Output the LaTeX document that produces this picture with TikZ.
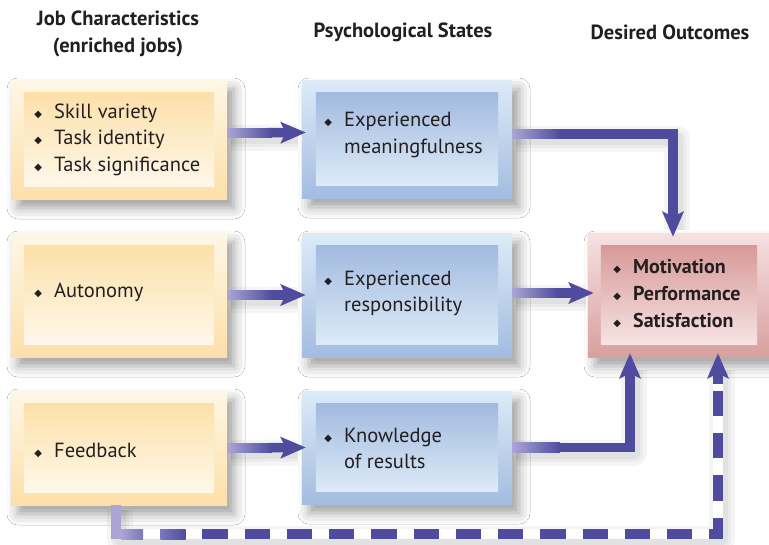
\documentclass[tikz,border=0pt]{standalone}
\usepackage{fontspec}
\setmainfont{PT Sans}
\newfontfamily\symf{DejaVu Sans}
\usetikzlibrary{shadows.blur,arrows.meta,calc}
\definecolor{ind}{HTML}{4F4C9F}
\definecolor{lav}{HTML}{ABA5D6}
\definecolor{midc}{HTML}{7C78BC}
\definecolor{txt}{HTML}{231F20}
\definecolor{otop}{HTML}{FEF7E6}
\definecolor{obot}{HTML}{FDDFA9}
\definecolor{oitop}{HTML}{FDE0A9}
\definecolor{oibot}{HTML}{FEF8EA}
\definecolor{btop}{HTML}{DDEBF8}
\definecolor{bbot}{HTML}{A3BCE0}
\definecolor{bitop}{HTML}{A2BADF}
\definecolor{bibot}{HTML}{DDEBF8}
\definecolor{ptop}{HTML}{F6E1E1}
\definecolor{pbot}{HTML}{D8A09F}
\definecolor{pitop}{HTML}{D79A99}
\definecolor{pibot}{HTML}{F7E3E3}
\newcommand\bl{\makebox[7pt][c]{\raisebox{1pt}{\symf\fontsize{10}{10}\selectfont ◆}}\hspace{12.5pt}}
\newcommand\ind{\hspace*{19.5pt}}
\begin{document}
\begin{tikzpicture}[x=1pt,y=-1pt,
  shad/.style={blur shadow={shadow xshift=7pt,shadow yshift=-9pt,shadow blur radius=11pt,shadow opacity=38}},
  boxo/.style={top color=otop,bottom color=obot,inner sep=0,shad},
  boxb/.style={top color=btop,bottom color=bbot,inner sep=0,shad},
  boxp/.style={top color=ptop,bottom color=pbot,inner sep=0,shad},
  txtn/.style={anchor=west,inner sep=0,align=left,text=txt,font=\fontsize{20.5}{26.5}\selectfont},
  txtp/.style={txtn,font=\bfseries\fontsize{20}{27}\selectfont},
  hdr/.style={font=\bfseries\fontsize{20.5}{27}\selectfont,text=txt,align=center,inner sep=0},
  arr/.style={draw=ind,line width=9.5pt,-{Stealth[length=25pt,width=21pt,inset=5pt]}},
  ashad/.style={draw=black,opacity=0.04,line width=#1,line join=round},
  grad/.style={left color=lav,right color=ind}
]
\useasboundingbox (0,0) rectangle (769,544);
\fill[white] (0,0) rectangle (769,544);

% headers
\node[hdr] (h1) at (118,33.5) {Job Characteristics\\(enriched jobs)};
\node[hdr] (h2) at (403,32) {Psychological States};
\node[hdr] (h3) at (670,32) {Desired Outcomes};

% outer boxes
\node[boxo,minimum width=216pt,minimum height=119pt] (o1) at (119,139.5) {};
\node[boxo,minimum width=216pt,minimum height=124pt] (o2) at (119,295) {};
\node[boxo,minimum width=216pt,minimum height=114pt] (o3) at (119,448) {};
\node[boxb,minimum width=210pt,minimum height=118pt] (b1) at (407,139) {};
\node[boxb,minimum width=210pt,minimum height=124pt] (b2) at (407,295) {};
\node[boxb,minimum width=210pt,minimum height=113pt] (b3) at (407,447.5) {};
\node[boxp,minimum width=182pt,minimum height=124pt] (p) at (679,295) {};

% inner boxes
\foreach \n in {o1,o2,o3}
  \shade[top color=oitop,bottom color=oibot] ($(\n.north west)+(13,13)$) rectangle ($(\n.south east)+(-13,-13)$);
\foreach \n in {b1,b2,b3}
  \shade[top color=bitop,bottom color=bibot] ($(\n.north west)+(14,13)$) rectangle ($(\n.south east)+(-14,-13)$);
\shade[top color=pitop,bottom color=pibot] ($(p.north west)+(13,13)$) rectangle ($(p.south east)+(-13,-13)$);

% texts
\node[txtn] (t1) at (34.5,139.5) {\bl Skill variety\\ \bl Task identity\\ \bl Task significance};
\node[txtn] (t2) at (34.5,292) {\bl Autonomy};
\node[txtn] (t3) at (34.5,450) {\bl Feedback};
\node[txtn] (t4) at (324.5,135) {\bl Experienced\\ \ind meaningfulness};
\node[txtn] (t5) at (324.5,293.5) {\bl Experienced\\ \ind responsibility};
\node[txtn] (t6) at (324.5,448.5) {\bl Knowledge\\ \ind of results};
\node[txtp] (t7) at (613.5,294) {\bl Motivation\\ \bl Performance\\ \bl Satisfaction};

% dashed feedback connector
\coordinate (d0) at ($(o3.south)+(-3,0)$);
\coordinate (d1) at ($(d0)+(0,29)$);
\coordinate (d2) at ($(p.south)+(39,21)$);
\coordinate (d3) at ($(p.south)+(39,-4)$);
\foreach \w in {26,18,12} \draw[ashad=\w pt,transform canvas={shift={(4pt,-5pt)}}] (d0) |- ($(d1)+(602,0)$) -- ($(d3)+(0,12)$);
\draw[white,line width=10pt] (d1) -| (d2);
\draw[ind,line width=10pt,dash pattern=on 25.25pt off 17pt,dash phase=40.5pt] (d1) -| (d2);
\draw[arr] ($(d2)+(0,6)$) -- (d3);
\fill[lav] ($(d0)+(-5,0)$) rectangle ($(d1)+(5,5)$);
\shade[left color=lav,right color=midc] ($(d1)+(5,-5)$) rectangle ($(d1)+(27,5)$);
\shade[left color=midc,right color=ind] ($(d1)+(44.25,-5)$) rectangle ($(d1)+(69.5,5)$);

% arrow shadows
\foreach \w in {26,18,12} {
  \draw[ashad=\w pt,transform canvas={shift={(4pt,-5pt)}}] ($(o1.east)+(0,-6.5)$) -- ($(b1.west)+(-8,-6.5)$);
  \draw[ashad=\w pt,transform canvas={shift={(4pt,-5pt)}}] (o2.east) -- ($(b2.west)+(-8,0)$);
  \draw[ashad=\w pt,transform canvas={shift={(4pt,-5pt)}}] (o3.east) -- ($(b3.west)+(-8,0)$);
  \draw[ashad=\w pt,transform canvas={shift={(4pt,-5pt)}}] ($(b1.east)+(0,-5)$) -| ($(p.north)+(-6,-8)$);
  \draw[ashad=\w pt,transform canvas={shift={(4pt,-5pt)}}] ($(b2.east)+(0,-2)$) -- ($(p.west)+(-6,-2)$);
  \draw[ashad=\w pt,transform canvas={shift={(4pt,-5pt)}}] (b3.east) -| ($(p.south)+(-49,8)$);
}

% arrows
\draw[arr] ($(o1.east)+(0,-6.5)$) -- ($(b1.west)+(4,-6.5)$);
\shade[grad] ($(o1.east)+(0,-11.25)$) rectangle ($(o1.east)+(45,-1.75)$);
\draw[arr] (o2.east) -- ($(b2.west)+(4,0)$);
\shade[grad] ($(o2.east)+(0,-4.75)$) rectangle ($(o2.east)+(45,4.75)$);
\draw[arr] (o3.east) -- ($(b3.west)+(4,0)$);
\shade[grad] ($(o3.east)+(0,-4.75)$) rectangle ($(o3.east)+(45,4.75)$);

\draw[arr] ($(b1.east)+(0,-5)$) -| ($(p.north)+(-6,4)$);
\shade[grad] ($(b1.east)+(0,-9.75)$) rectangle ($(b1.east)+(48,-0.25)$);
\draw[arr] ($(b2.east)+(0,-2)$) -- ($(p.west)+(6,-2)$);
\shade[grad] ($(b2.east)+(0,-6.75)$) rectangle ($(b2.east)+(45,2.75)$);
\draw[arr] (b3.east) -| ($(p.south)+(-49,-4)$);
\shade[grad] ($(b3.east)+(0,-4.75)$) rectangle ($(b3.east)+(48,4.75)$);
\end{tikzpicture}
\end{document}
